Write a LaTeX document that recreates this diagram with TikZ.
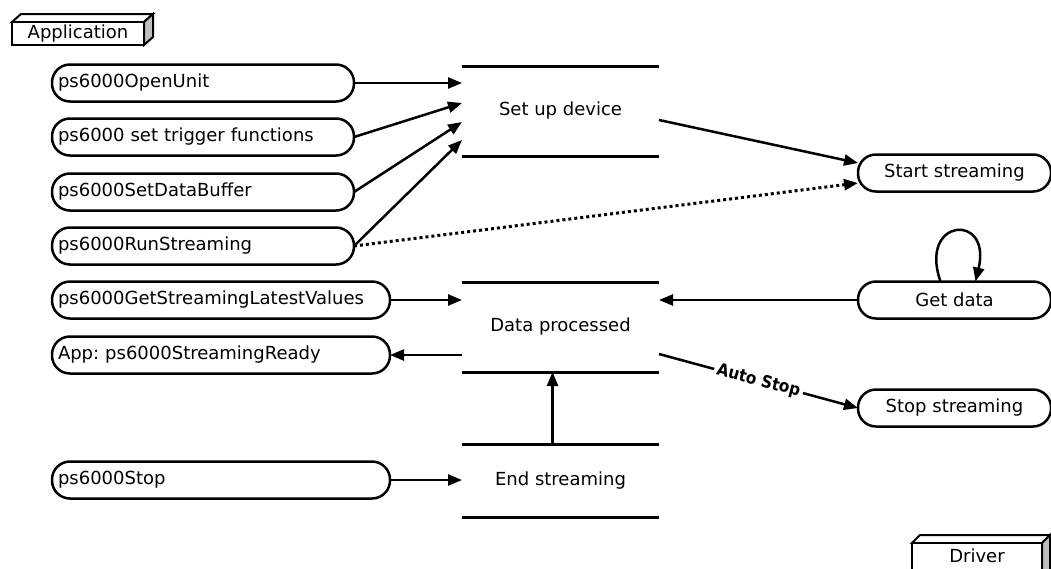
\documentclass[tikz,border=0pt]{standalone}
\usepackage{fontspec}
\setmainfont{DejaVu Sans}
\newfontfamily\autofont{DejaVu Sans Condensed}
\usetikzlibrary{arrows.meta,calc}
\frenchspacing
\begin{document}
\begin{tikzpicture}[x=1pt,y=-1pt,
  every node/.style={font=\fontsize{18}{21}\selectfont},
  fn/.style={draw, line width=2.5pt, rounded corners=18pt, minimum height=37pt,
    inner xsep=6pt, inner ysep=0pt, outer sep=0pt, text width=290pt, align=left, anchor=west},
  fnw/.style={fn, text width=326pt},
  drv/.style={draw, line width=2.5pt, rounded corners=18pt, minimum height=37pt,
    minimum width=193pt, inner sep=0pt, outer sep=0pt, anchor=west},
  stt/.style={minimum width=197pt, inner sep=0pt, outer sep=0pt},
  sline/.style={line width=3pt},
  arr/.style={line width=2.5pt, -{Triangle[length=14pt,width=11pt]}},
  dotarr/.style={line width=3pt, dash pattern=on 3pt off 3pt, -{Triangle[length=14pt,width=11pt]}},
  pkg/.style={line width=2pt, fill=white},
  pkgside/.style={line width=2pt, fill=gray!50},
]
\useasboundingbox (0,0) rectangle (1051,568);
\clip (0,0) rectangle (1051,568);

% package boxes
\draw[pkg] (12,22) -- (21,14) -- (153,14) -- (144,22) -- cycle;
\draw[pkgside] (144,22) -- (153,14) -- (153,37) -- (144,45) -- cycle;
\node[draw, line width=2pt, fill=white, minimum width=132pt, minimum height=23pt, inner sep=0pt, outer sep=0pt, anchor=north west] (app) at (12,22) {Application};

\draw[pkg] (912,543) -- (920,535) -- (1050,535) -- (1042,543) -- cycle;
\draw[pkgside] (1042,543) -- (1050,535) -- (1050,575) -- (1042,583) -- cycle;
\node[draw, line width=2pt, fill=white, minimum width=130pt, minimum height=30pt, inner sep=0pt, outer sep=0pt, anchor=north west] (drvpkg) at (912,543) {};
\node (drvtxt) at (977,556) {Driver};

% application functions
\node[fn] (open) at (52,83) {ps6000OpenUnit};
\node[fn] (trig) at (52,137) {ps6000 set trigger functions};
\node[fn] (buf) at (52,192) {ps6000SetDataBuffer};
\node[fn] (run) at (52,246) {ps6000RunStreaming};
\node[fnw] (getv) at (52,300) {ps6000GetStreamingLatestValues};
\node[fnw] (ready) at (52,355) {App: ps6000StreamingReady};
\node[fnw] (stopf) at (52,480) {ps6000Stop};

% states
\node[stt, minimum height=90pt] (setup) at (560.5,111) {Set up device};
\node[stt, minimum height=90pt] (dp) at (560.5,327) {Data processed};
\node[stt, minimum height=73pt] (end) at (560.5,480.5) {End streaming};
\foreach \s in {setup,dp,end}{
  \draw[sline] (\s.north west) -- (\s.north east);
  \draw[sline] (\s.south west) -- (\s.south east);
}

% driver states
\node[drv] (start) at (858,173) {Start streaming};
\node[drv] (get) at (858,300) {Get data};
\node[drv] (stop) at (858,408) {Stop streaming};

% connectors
\draw[arr] (open.east) -- (open.east -| setup.west);
\draw[arr] (trig.east) -- ($(setup.west)+(0,-8)$);
\draw[arr] (buf.east) -- ($(setup.west)+(0,11)$);
\draw[arr] (run.east) -- ($(setup.west)+(0,29)$);
\draw[arr] ($(setup.east)+(0,9)$) -- ($(start.west)+(0,-10)$);
\draw[dotarr] (run.east) -- ($(start.west)+(0,10)$);

\draw[arr] (getv.east) -- (getv.east -| dp.west);
\draw[arr] (dp.west |- ready.east) -- (ready.east);
\draw[arr] (get.west) -- (get.west -| dp.east);
\draw[arr] ($(get.north)+(-14,0)$) .. controls (918,218) and (992,212) .. ($(get.north)+(21,0)$);
\draw[arr] ($(dp.east)+(0,27)$) -- node[sloped, fill=white, inner xsep=3pt, inner ysep=1pt, pos=0.5,
   font=\autofont\bfseries\fontsize{17}{19}\selectfont] (autolbl) {Auto Stop} (stop.west);

\draw[arr] ($(end.north)+(-8,0)$) -- ($(dp.south)+(-8,0)$);
\draw[arr] (stopf.east) -- (stopf.east -| end.west);
\end{tikzpicture}
\end{document}
